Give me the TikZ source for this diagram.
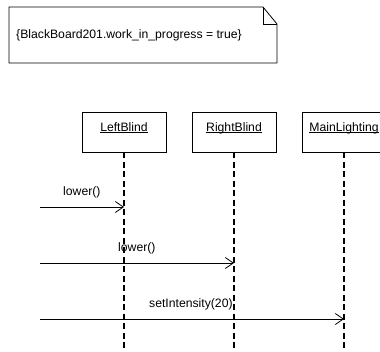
\documentclass[tikz,border=0pt]{standalone}
\usepackage{fontspec}
\setmainfont{Liberation Sans}
\usetikzlibrary{arrows.meta}
\newcommand{\objname}[1]{\underline{\smash{#1}}}
\begin{document}
\begin{tikzpicture}[x=1pt,y=-1pt,
  txt/.style={font=\fontsize{12.2}{14}\selectfont, inner sep=0pt},
  objbox/.style={draw, line width=0.8pt, minimum width=84pt, minimum height=40pt, font=\fontsize{12.2}{14}\selectfont, inner sep=0pt},
  life/.style={line width=1.4pt, dash pattern=on 6pt off 3.5pt},
  msg/.style={line width=0.8pt, -{Straight Barb[length=8pt,width=11pt,line width=0.8pt]}}]
\useasboundingbox (0,0) rectangle (380,351);
% note
\draw[line width=0.8pt] (9,7) -- (263,7) -- (277,24) -- (277,63) -- (9,63) -- cycle;
\draw[line width=0.8pt] (263,7) -- (263,24) -- (277,24);
\node[txt, anchor=west] (note) at (16,35) {\{BlackBoard201.work\_in\_progress = true\}};
% objects
\node[objbox] (lb) at (124,132) {\objname{LeftBlind}};
\node[objbox] (rb) at (234,132) {\objname{RightBlind}};
\node[objbox] (ml) at (344,132) {\objname{MainLighting}};
% lifeline ends
\coordinate (lbE) at (124,351);
\coordinate (rbE) at (234,351);
\coordinate (mlE) at (344,351);
\draw[life] (lb.south) -- (lbE);
\draw[life] (rb.south) -- (rbE);
\draw[life] (ml.south) -- (mlE);
% messages
\coordinate (s1) at (40,207);
\coordinate (t1) at (124,207);
\coordinate (s2) at (40,263);
\coordinate (t2) at (234,263);
\coordinate (s3) at (40,319);
\coordinate (t3) at (344,319);
\draw[msg] (s1) -- (t1);
\draw[msg] (s2) -- (t2);
\draw[msg] (s3) -- (t3);
\node[txt, anchor=west] (m1) at (63,192) {lower()};
\node[txt, anchor=west] (m2) at (118,248) {lower()};
\node[txt, anchor=west] (m3) at (149,304) {setIntensity(20)};
\end{tikzpicture}
\end{document}
